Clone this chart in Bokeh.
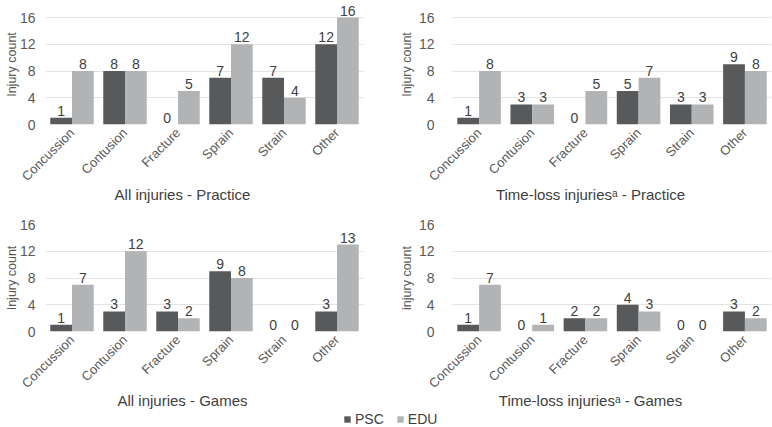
import math
from bokeh.plotting import figure
from bokeh.layouts import column, row
from bokeh.models import (ColumnDataSource, FactorRange, Range1d, FixedTicker,
                          Legend, LegendItem, Label)
from bokeh.transform import dodge
from bokeh.core.properties import value
from bokeh.embed import file_html
from bokeh.resources import INLINE

# ---------------- data ----------------
categories = ["Concussion", "Contusion", "Fracture", "Sprain", "Strain", "Other"]

psc_all_practice = [1, 8, 0, 7, 7, 12]
edu_all_practice = [8, 8, 5, 12, 4, 16]

psc_tl_practice = [1, 3, 0, 5, 3, 9]
edu_tl_practice = [8, 3, 5, 7, 3, 8]

psc_all_games = [1, 3, 3, 9, 0, 3]
edu_all_games = [7, 12, 2, 8, 0, 13]

psc_tl_games = [1, 0, 2, 4, 0, 3]
edu_tl_games = [7, 1, 2, 3, 0, 2]

y_ticks = [0, 4, 8, 12, 16]
series_names = ["PSC", "EDU"]
panel_titles = ["All injuries - Practice", "Time-loss injuries\u1d43 - Practice",
                "All injuries - Games", "Time-loss injuries\u1d43 - Games"]
y_titles = ["Injury count", "Injury count", "Injury count", "injury count"]

# ---------------- style ----------------
FONT = "Liberation Sans"
PSC_COLOR = "#58595b"
EDU_COLOR = "#b2b3b5"
GRID = "#e3e3e3"
TEXT = "#404040"
TICK_TEXT = "#595959"


def make_panel(psc, edu, ytitle, width, height, bl, br, bt, bb, ymax,
               tick_standoff, label_standoff):
    src = ColumnDataSource(dict(
        cat=categories, psc=psc, edu=edu,
        psc_s=[str(v) for v in psc], edu_s=[str(v) for v in edu]))
    p = figure(width=width, height=height, x_range=FactorRange(*categories),
               y_range=Range1d(0, ymax), output_backend="svg", toolbar_location=None,
               min_border_left=bl, min_border_right=br, min_border_top=bt,
               min_border_bottom=bb)
    p.outline_line_color = None
    p.xgrid.grid_line_color = None
    p.ygrid.grid_line_color = GRID
    p.ygrid.grid_line_width = 1

    p.vbar(x=dodge("cat", -0.205, range=p.x_range), top="psc", width=0.41,
           source=src, fill_color=PSC_COLOR, line_color=None)
    p.vbar(x=dodge("cat", 0.205, range=p.x_range), top="edu", width=0.41,
           source=src, fill_color=EDU_COLOR, line_color=None)

    for off, col in ((-0.205, "psc"), (0.205, "edu")):
        p.text(x=dodge("cat", off, range=p.x_range), y=col,
               text=col + "_s", source=src, text_align="center",
               text_baseline="alphabetic", y_offset=-7,
               text_font=value(FONT), text_font_size="14px", text_color=TEXT)

    xa = p.xaxis[0]
    xa.axis_line_color = None
    xa.major_tick_line_color = None
    xa.minor_tick_line_color = None
    xa.major_label_orientation = math.pi / 4
    xa.major_label_text_font = FONT
    xa.major_label_text_font_size = "13px"
    xa.major_label_text_color = TICK_TEXT
    xa.major_label_standoff = 0

    ya = p.yaxis[0]
    ya.ticker = FixedTicker(ticks=y_ticks)
    ya.axis_line_color = None
    ya.major_tick_line_color = None
    ya.minor_tick_line_color = None
    ya.major_label_text_font = FONT
    ya.major_label_text_font_size = "14px"
    ya.major_label_text_color = TICK_TEXT
    ya.major_label_standoff = tick_standoff
    ya.axis_label = ytitle
    ya.axis_label_text_font = FONT
    ya.axis_label_text_font_size = "12.5px"
    ya.axis_label_text_font_style = "normal"
    ya.axis_label_text_color = TICK_TEXT
    ya.axis_label_standoff = label_standoff
    return p


def make_strip(height, shift):
    s = figure(width=772, height=height, x_axis_type=None, y_axis_type=None,
               x_range=Range1d(0, 772), y_range=Range1d(0, height),
               output_backend="svg", toolbar_location=None,
               min_border=0, min_border_left=0, min_border_right=0,
               min_border_top=0, min_border_bottom=0)
    s.outline_line_color = None
    s.background_fill_alpha = 0
    s.border_fill_alpha = 0
    s.xgrid.visible = False
    s.ygrid.visible = False
    s.styles = {"margin-top": f"-{shift}px"}
    return s


def title_label(text, x, y):
    return Label(x=x, y=y, text=text, text_align="center",
                 text_baseline="alphabetic", text_font=FONT,
                 text_font_size="15px", text_color=TEXT)


TOP_YMAX = 16 * 120 / 107   # top panels: frame reaches the top edge so "16" shows

p1 = make_panel(psc_all_practice, edu_all_practice, y_titles[0], 390, 192,
                45, 27, 4, 68, TOP_YMAX, 4, -2)
p2 = make_panel(psc_tl_practice, edu_tl_practice, y_titles[1], 382, 192,
                62, 1, 4, 68, TOP_YMAX, 12, 2)
p3 = make_panel(psc_all_games, edu_all_games, y_titles[2], 390, 184,
                45, 27, 9, 68, 16, 4, -2)
p4 = make_panel(psc_tl_games, edu_tl_games, y_titles[3], 382, 184,
                62, 1, 9, 68, 16, 12, 2)

# titles of the top panels, in a transparent strip tucked under the axes
s1 = make_strip(33, 10)
s1.add_layout(title_label(panel_titles[0], 182, 21.5))
s1.add_layout(title_label(panel_titles[1], 590, 21.5))

# titles of the bottom panels + legend
s2 = make_strip(38, 10)
s2.add_layout(title_label(panel_titles[2], 182, 27))
s2.add_layout(title_label(panel_titles[3], 590, 27))
r_psc = s2.vbar(x=[0.5], top=[0], width=0.1, fill_color=PSC_COLOR, line_color=None)
r_edu = s2.vbar(x=[0.5], top=[0], width=0.1, fill_color=EDU_COLOR, line_color=None)
legend = Legend(items=[LegendItem(label=series_names[0], renderers=[r_psc]),
                       LegendItem(label=series_names[1], renderers=[r_edu])],
                orientation="horizontal", location=(343, 0),
                glyph_width=8, glyph_height=8, label_standoff=4, spacing=12,
                padding=0, margin=0, border_line_color=None,
                background_fill_alpha=0,
                label_text_font=FONT, label_text_font_size="14px",
                label_text_color=TEXT, label_height=17)
s2.add_layout(legend, "center")

layout = column(row(p1, p2), s1, row(p3, p4), s2, spacing=0)

with open("out.html", "w") as f:
    f.write(file_html(layout, INLINE))
